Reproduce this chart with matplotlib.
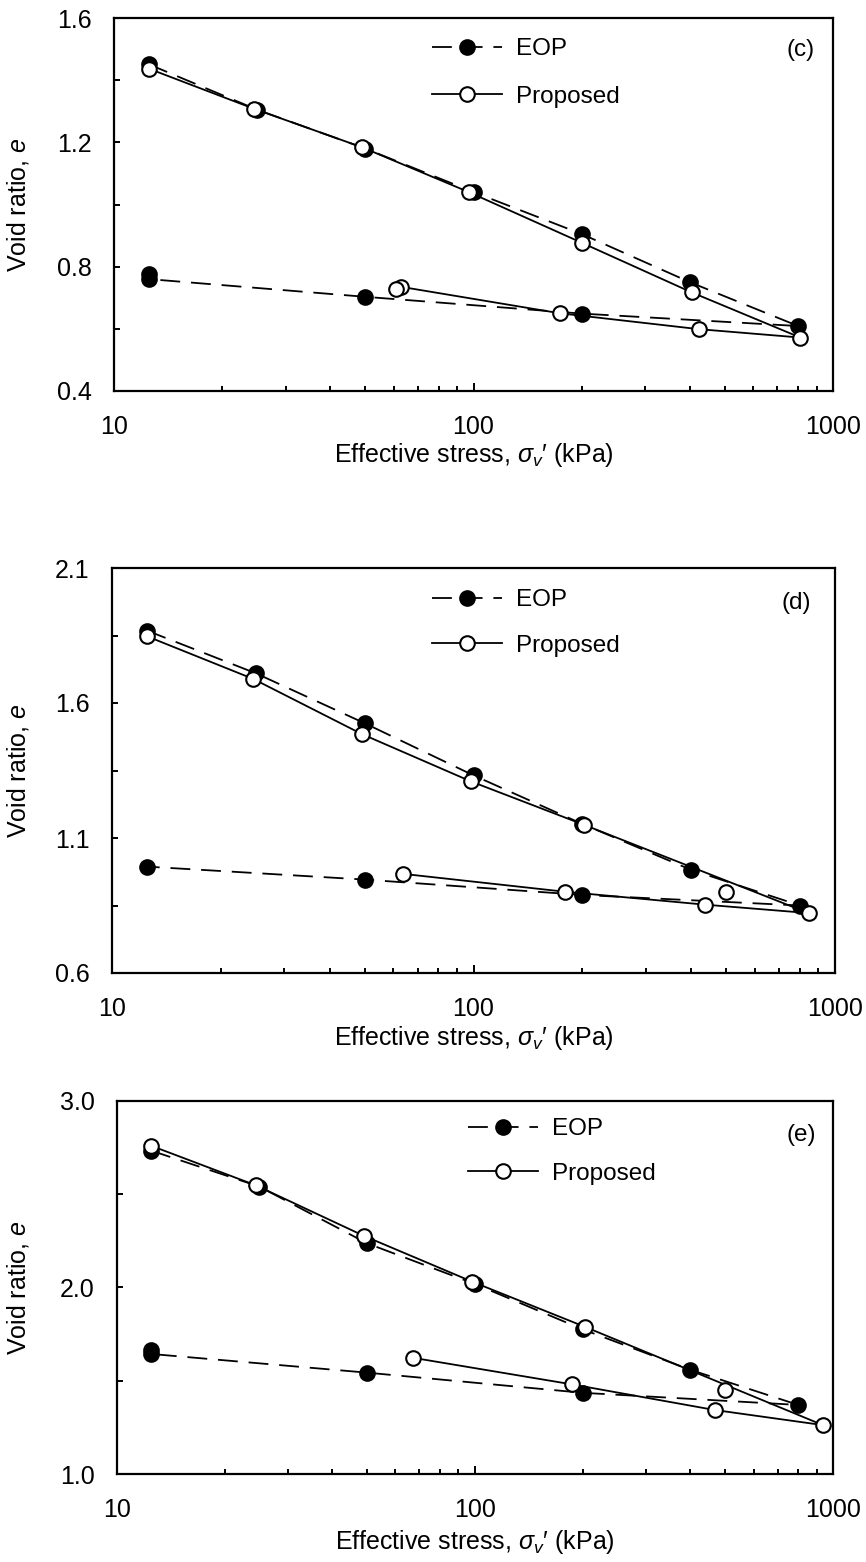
import matplotlib
matplotlib.use("Agg")
import matplotlib.pyplot as plt
from matplotlib.ticker import FixedLocator, NullFormatter, FormatStrFormatter, FixedFormatter

plt.rcParams["font.family"] = ["Liberation Sans", "DejaVu Sans"]
plt.rcParams["mathtext.fontset"] = "custom"
plt.rcParams["mathtext.rm"] = "Liberation Sans"
plt.rcParams["mathtext.it"] = "Liberation Sans:italic"
plt.rcParams["font.size"] = 18

# ---- panel (c) ----
C_EOP_STRESS = [12.5, 25, 50, 100, 200, 400, 800, 200, 50, 12.5, 12.5]
C_EOP_E = [1.451, 1.305, 1.180, 1.040, 0.905, 0.750, 0.609, 0.649, 0.703, 0.760, 0.775]
C_PROP_STRESS = [12.5, 24.5, 49, 97, 200, 405, 811, 423, 174, 63]
C_PROP_E = [1.437, 1.308, 1.184, 1.040, 0.877, 0.717, 0.572, 0.599, 0.650, 0.735]
C_EXTRA_STRESS = [61]
C_EXTRA_E = [0.727]

# ---- panel (d) ----
D_EOP_STRESS = [12.5, 25, 50, 100, 200, 400, 800, 200, 50, 12.5]
D_EOP_E = [1.868, 1.710, 1.525, 1.332, 1.152, 0.982, 0.850, 0.889, 0.946, 0.994]
D_PROP_STRESS = [12.5, 24.6, 49.1, 98.2, 202, 845, 438, 179, 64]
D_PROP_E = [1.847, 1.689, 1.485, 1.310, 1.149, 0.822, 0.853, 0.901, 0.967]
D_EXTRA_STRESS = [499]
D_EXTRA_E = [0.899]

# ---- panel (e) ----
E_EOP_STRESS = [12.5, 25, 50, 100, 200, 400, 800, 200, 50, 12.5, 12.5]
E_EOP_E = [2.732, 2.540, 2.236, 2.018, 1.775, 1.558, 1.370, 1.435, 1.543, 1.643, 1.664]
E_PROP_STRESS = [12.5, 24.5, 49.1, 98.4, 202.6, 937, 467, 187, 67]
E_PROP_E = [2.758, 2.546, 2.275, 2.030, 1.789, 1.262, 1.343, 1.480, 1.623]
E_EXTRA_STRESS = [500]
E_EXTRA_E = [1.450]

X_MAJOR = [10, 100, 1000]
X_MAJOR_LABELS = ["10", "100", "1000"]
X_MINOR = [20, 30, 40, 50, 60, 70, 80, 90, 200, 300, 400, 500, 600, 700, 800, 900]

PANELS = [
    dict(tag="(c)", eop=(C_EOP_STRESS, C_EOP_E), prop=(C_PROP_STRESS, C_PROP_E),
         extra=(C_EXTRA_STRESS, C_EXTRA_E), ylim=(0.4, 1.6),
         ymajor=[0.4, 0.8, 1.2, 1.6], yminor=[0.6, 1.0, 1.4],
         rect_px=(114, 18, 833, 391), leg_px=(432, 38), leg_space=1.05,
         tag_px=(801, 50), xlab_off=64),
    dict(tag="(d)", eop=(D_EOP_STRESS, D_EOP_E), prop=(D_PROP_STRESS, D_PROP_E),
         extra=(D_EXTRA_STRESS, D_EXTRA_E), ylim=(0.6, 2.1),
         ymajor=[0.6, 1.1, 1.6, 2.1], yminor=[0.85, 1.35, 1.85],
         rect_px=(112, 568, 835, 973), leg_px=(432, 589), leg_space=0.97,
         tag_px=(796, 603), xlab_off=65),
    dict(tag="(e)", eop=(E_EOP_STRESS, E_EOP_E), prop=(E_PROP_STRESS, E_PROP_E),
         extra=(E_EXTRA_STRESS, E_EXTRA_E), ylim=(1.0, 3.0),
         ymajor=[1.0, 2.0, 3.0], yminor=[1.5, 2.5],
         rect_px=(116.7, 1100.7, 833, 1474), leg_px=(468, 1118), leg_space=0.93,
         tag_px=(801, 1135), xlab_off=68),
]

W, H = 866, 1562
fig = plt.figure(figsize=(W / 100, H / 100), dpi=100)

for p in PANELS:
    l, t, r, b = p["rect_px"]
    wpx, hpx = r - l, b - t
    ax = fig.add_axes([l / W, (H - b) / H, wpx / W, hpx / H])

    ms, mew, lw = 10.5, 1.5, 1.3
    ax.plot(*p["eop"], color="black", lw=lw, dashes=(11, 6), marker="o", ms=ms,
            mfc="black", mec="black", mew=mew, label="EOP", zorder=3)
    ax.plot(*p["prop"], color="black", lw=lw, ls="-", marker="o", ms=ms,
            mfc="white", mec="black", mew=mew, label="Proposed", zorder=4)
    ax.plot(*p["extra"], ls="none", marker="o", ms=ms, mfc="white", mec="black",
            mew=mew, zorder=4)

    ax.set_xscale("log")
    ax.set_xlim(10, 1000)
    ax.set_ylim(*p["ylim"])

    ax.xaxis.set_major_locator(FixedLocator(X_MAJOR))
    ax.xaxis.set_major_formatter(FixedFormatter(X_MAJOR_LABELS))
    ax.xaxis.set_minor_locator(FixedLocator(X_MINOR))
    ax.xaxis.set_minor_formatter(NullFormatter())
    ax.yaxis.set_major_locator(FixedLocator(p["ymajor"]))
    ax.yaxis.set_major_formatter(FormatStrFormatter("%.1f"))
    ax.yaxis.set_minor_locator(FixedLocator(p["yminor"]))

    for s in ax.spines.values():
        s.set_linewidth(1.6)
    ax.tick_params(which="both", direction="in", top=False, right=False,
                   width=1.4, labelsize=18, colors="black")
    ax.tick_params(axis="x", which="major", length=5.5, pad=17)
    ax.tick_params(axis="x", which="minor", length=3.5)
    ax.tick_params(axis="y", which="both", length=4.5, pad=16)

    ax.set_xlabel(r"Effective stress, $\sigma_v$′ (kPa)", fontsize=18)
    ax.xaxis.set_label_coords(0.5, -p["xlab_off"] / hpx)
    ax.xaxis.label.set_verticalalignment("center")
    ax.set_ylabel(r"Void ratio, $e$", fontsize=18)
    ax.yaxis.set_label_coords((18 - l) / wpx, 0.5)
    ax.yaxis.label.set_verticalalignment("center")

    lx, ly = p["leg_px"]
    ax.legend(loc="upper left", bbox_to_anchor=((lx - l) / wpx, (b - ly) / hpx),
              frameon=False, borderpad=0, borderaxespad=0, handlelength=2.9,
              handletextpad=0.55, labelspacing=p["leg_space"], numpoints=1,
              fontsize=17.5)

    tx, ty = p["tag_px"]
    ax.text((tx - l) / wpx, (b - ty) / hpx, p["tag"], transform=ax.transAxes,
            ha="center", va="center", fontsize=17.5)

fig.savefig("out.png", dpi=100)
